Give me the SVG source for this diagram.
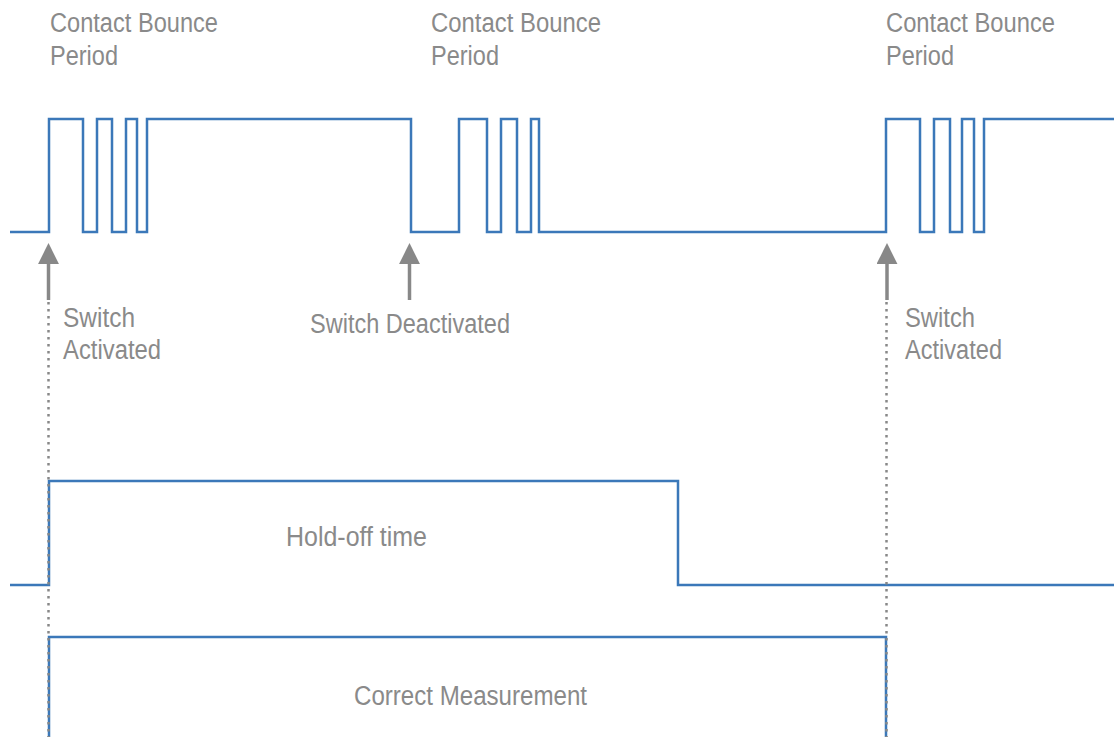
<svg xmlns="http://www.w3.org/2000/svg" width="1114" height="737" viewBox="0 0 1114 737">
<defs>
<style>
.wave{fill:none;stroke:#3b78b9;stroke-width:2.5;stroke-linejoin:miter}
.lbl{font-family:"Liberation Sans",Arial,sans-serif;font-size:27px;fill:#8a8a8a}
.dot{fill:none;stroke:#888;stroke-width:2.5;stroke-dasharray:2.5 4.5}
.shaft{stroke:#888;stroke-width:3.5}
</style>
<marker id="ah" viewBox="0 0 10 10" refX="1" refY="5" markerWidth="6" markerHeight="6" orient="auto" markerUnits="strokeWidth"><path d="M0,0 L10,5 L0,10 Z" fill="#888"/></marker>
</defs>
<rect width="1114" height="737" fill="#fff"/>
<g id="signal-switch">
<path class="wave" d="M10,232 H49 V119 H83 V232 H97 V119 H112 V232 H126 V119 H137 V232 H147 V119 H411 V232 H459 V119 H487 V232 H501 V119 H517 V232 H531 V119 H539 V232 H886 V119 H920 V232 H934 V119 H950 V232 H962 V119 H974 V232 H984 V119 H1114"/>
</g>
<g id="signal-holdoff">
<path class="wave" d="M10,585 H49 V481 H678 V585 H1114"/>
</g>
<g id="signal-correct">
<path class="wave" d="M49,737 V637 H886 V737"/>
</g>
<g id="connectors">
<line class="dot" x1="48.5" y1="302" x2="48.5" y2="737"/>
<line class="dot" x1="886.5" y1="302" x2="886.5" y2="737"/>
<line class="shaft" x1="48.5" y1="300" x2="48.5" y2="262" marker-end="url(#ah)"/>
<line class="shaft" x1="409.5" y1="300" x2="409.5" y2="262" marker-end="url(#ah)"/>
<line class="shaft" x1="887" y1="300" x2="887" y2="262" marker-end="url(#ah)"/>
</g>
<g id="label-bounce-1">
<text class="lbl" x="50" y="32" textLength="168" lengthAdjust="spacingAndGlyphs">Contact Bounce</text>
<text class="lbl" x="50" y="65" textLength="68" lengthAdjust="spacingAndGlyphs">Period</text>
</g>
<g id="label-bounce-2">
<text class="lbl" x="431" y="32" textLength="170" lengthAdjust="spacingAndGlyphs">Contact Bounce</text>
<text class="lbl" x="431" y="65" textLength="68" lengthAdjust="spacingAndGlyphs">Period</text>
</g>
<g id="label-bounce-3">
<text class="lbl" x="886" y="32" textLength="169" lengthAdjust="spacingAndGlyphs">Contact Bounce</text>
<text class="lbl" x="886" y="65" textLength="68" lengthAdjust="spacingAndGlyphs">Period</text>
</g>
<g id="label-activated-1">
<text class="lbl" x="63" y="327" textLength="72" lengthAdjust="spacingAndGlyphs">Switch</text>
<text class="lbl" x="63" y="359" textLength="98" lengthAdjust="spacingAndGlyphs">Activated</text>
</g>
<g id="label-deactivated">
<text class="lbl" x="310" y="333" textLength="200" lengthAdjust="spacingAndGlyphs">Switch Deactivated</text>
</g>
<g id="label-activated-2">
<text class="lbl" x="905" y="327" textLength="70" lengthAdjust="spacingAndGlyphs">Switch</text>
<text class="lbl" x="905" y="359" textLength="97" lengthAdjust="spacingAndGlyphs">Activated</text>
</g>
<g id="label-holdoff">
<text class="lbl" x="286" y="546" textLength="141" lengthAdjust="spacingAndGlyphs">Hold-off time</text>
</g>
<g id="label-correct">
<text class="lbl" x="354" y="705" textLength="233" lengthAdjust="spacingAndGlyphs">Correct Measurement</text>
</g>
</svg>
